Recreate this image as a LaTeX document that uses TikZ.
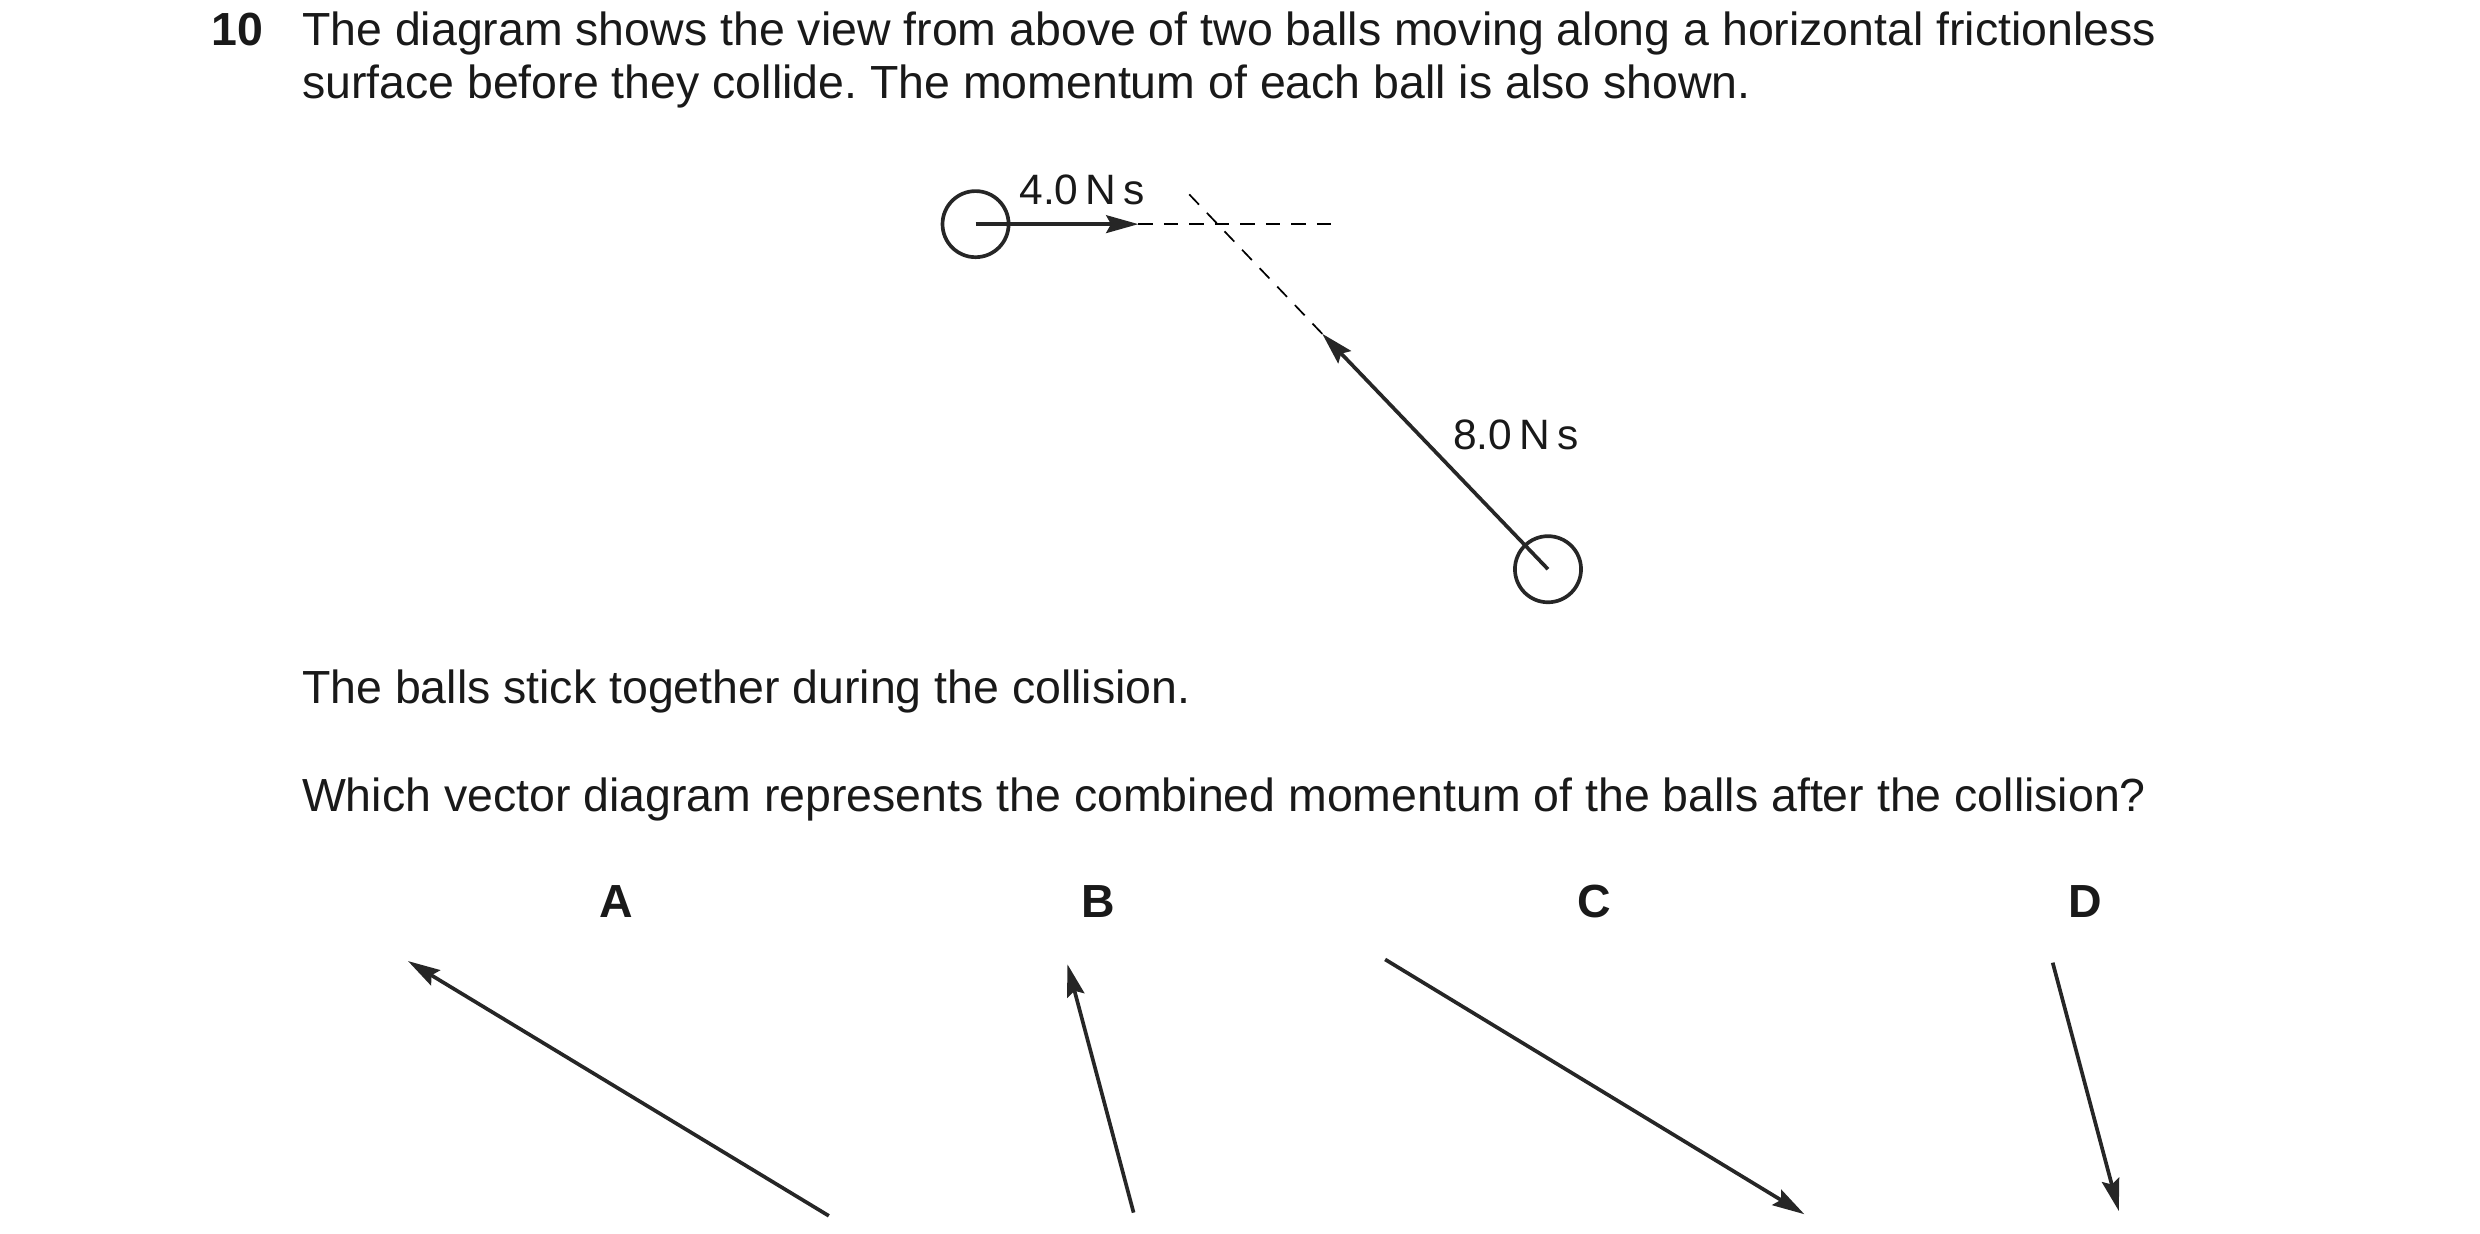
\documentclass[tikz,border=0pt]{standalone}
\usepackage{fontspec}
\setmainfont{Liberation Sans}
\usetikzlibrary{arrows.meta}
\begin{document}
\frenchspacing
\begin{tikzpicture}[x=0.02cm,y=-0.02cm,
  ln/.style={line width=1.3pt,draw=black!85},
  arr/.style={ln,-{Stealth[length=0.4cm,width=0.22cm,inset=0.06cm]}},
  dsh/.style={line width=0.6pt,dash pattern=on 5pt off 4pt},
  body/.style={inner sep=0pt,anchor=base west,font=\fontsize{16.4}{20}\selectfont,text=black!90},
  lab/.style={inner sep=0pt,anchor=base,font=\fontsize{16.4}{18}\selectfont\bfseries,text=black!90},
  val/.style={inner sep=0pt,anchor=base,font=\fontsize{15}{16}\selectfont,text=black!90}]
\useasboundingbox (0,0) rectangle (1538,765);
\node[body,font=\fontsize{16.4}{20}\selectfont\bfseries] (num) at (131,28) {10};
\node[body,text width=25cm,align=justify] (p1) at (187,28) {The diagram shows the view from above of two balls moving along a horizontal frictionless\hfill\null};
\node[body] (p2) at (187,61) {surface before they collide. The momentum of each ball is also shown.};
% ball 1
\node[circle,ln,minimum size=0.82cm,inner sep=0pt] (b1) at (605,139) {};
\coordinate (t1) at (706,139);
\coordinate (d1) at (826,139);
\draw[arr] (b1.center) -- (t1);
\draw[dsh] (t1) -- (d1);
\node[val] (l1) at (671,127) {4.0\,N\,s};
% ball 2
\node[circle,ln,minimum size=0.82cm,inner sep=0pt] (b2) at (960,353) {};
\coordinate (t2) at (820,207);
\coordinate (d2) at (737,120);
\draw[arr] (b2.center) -- (t2);
\draw[dsh] (t2) -- (d2);
\node[val] (l2) at (940,279) {8.0\,N\,s};
\node[body] (q1) at (187,436) {The balls stick together during the collision.};
\node[body] (q2) at (187,503) {Which vector diagram represents the combined momentum of the balls after the collision?};
\node[lab] (A) at (382,569) {A};
\node[lab] (B) at (681,569) {B};
\node[lab] (C) at (989,569) {C};
\node[lab] (D) at (1293,569) {D};
\coordinate (a0) at (514,754); \coordinate (a1) at (253,596);
\coordinate (b0) at (703,752); \coordinate (bb1) at (662,598);
\coordinate (c0) at (859,595); \coordinate (c1) at (1119,753);
\coordinate (e0) at (1273,597); \coordinate (e1) at (1314,751);
\draw[arr] (a0) -- (a1);
\draw[arr] (b0) -- (bb1);
\draw[arr] (c0) -- (c1);
\draw[arr] (e0) -- (e1);
\end{tikzpicture}
\end{document}
